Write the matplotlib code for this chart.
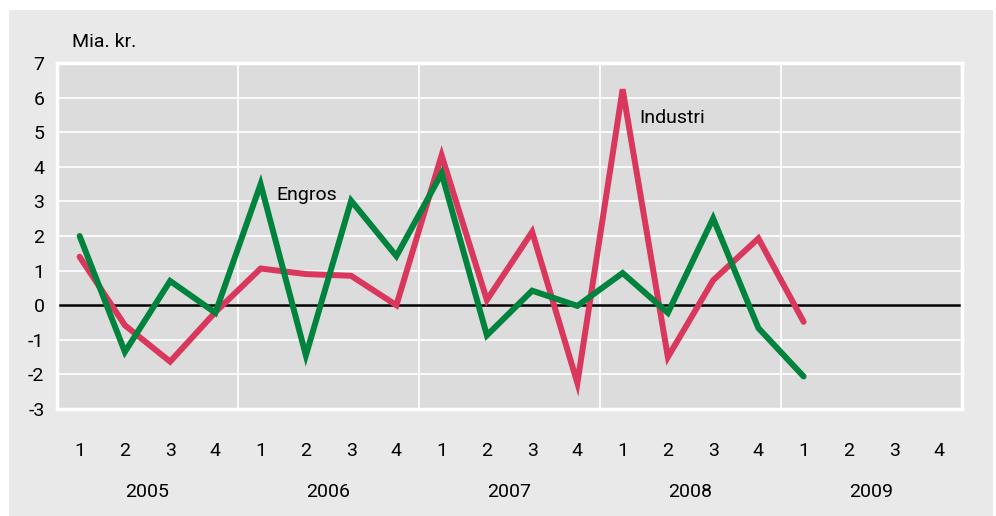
import numpy as np
import matplotlib
matplotlib.use("Agg")
import matplotlib.pyplot as plt
from matplotlib.patches import Rectangle
import matplotlib.transforms as mtransforms

plt.rcParams['font.family'] = ['Roboto', 'DejaVu Sans']

# Data
years = ['2005', '2006', '2007', '2008', '2009']
quarters = ['1', '2', '3', '4']
industri = [1.4, -0.58, -1.63, -0.2, 1.06, 0.9, 0.85, 0.0,
            4.33, 0.15, 2.12, -2.25, 6.24, -1.5, 0.72, 1.93, -0.48]
engros = [2.0, -1.35, 0.7, -0.22, 3.5, -1.45, 3.02, 1.42,
          3.81, -0.87, 0.42, -0.02, 0.93, -0.22, 2.51, -0.66, -2.06]

W, H = 996, 516
fig = plt.figure(figsize=(W / 100, H / 100), dpi=100)
fig.patch.set_facecolor('white')

# gray panel behind the chart
fig.patches.append(Rectangle((9 / W, 0), (993 - 9) / W, (516 - 10) / H,
                             transform=fig.transFigure, facecolor='#e9e9e9',
                             edgecolor='none', zorder=-5))

ax = fig.add_axes([57 / W, (H - 409) / H, 905 / W, 346 / H])
ax.set_zorder(2)
ax.set_facecolor('#dcdcdc')

n_q = len(years) * len(quarters)
x = np.arange(len(industri))

# grid
for yv in range(-3, 8):
    ax.axhline(yv, color='white', lw=1.2, zorder=1)
for b in range(4, n_q, 4):
    ax.axvline(b - 0.5, color='white', lw=1.2, zorder=1)
ax.axhline(0, color='black', lw=1.8, zorder=2)

ax.plot(x, industri, color='#d9375b', lw=4.3, solid_joinstyle='miter',
        solid_capstyle='round', zorder=3)
ax.plot(x, engros, color='#00843d', lw=4.3, solid_joinstyle='miter',
        solid_capstyle='round', zorder=4)

ax.set_xlim(-0.5, n_q - 0.5)
ax.set_ylim(-3, 7)
ax.set_yticks(range(-3, 8))
ax.set_yticklabels([str(v) for v in range(-3, 8)])
ax.set_xticks(range(n_q))
ax.set_xticklabels(quarters * len(years))
ax.tick_params(axis='both', length=0, labelsize=14, colors='black')
ax.tick_params(axis='x', pad=24)
ax.tick_params(axis='y', pad=9)
for s in ax.spines.values():
    s.set_color('white')
    s.set_linewidth(2.5)

trans = mtransforms.blended_transform_factory(ax.transData, fig.transFigure)
for i, yr in enumerate(years):
    ax.text(i * 4 + 1.5, (H - 492) / H, yr, transform=trans, ha='center',
            va='center', fontsize=14)

fig.text(72 / W, (H - 42) / H, 'Mia. kr.', fontsize=14, va='center', ha='left')

ax.text(4.34, 3.18, 'Engros', fontsize=14, va='center', ha='left', zorder=5)
ax.text(12.36, 5.41, 'Industri', fontsize=14, va='center', ha='left', zorder=5)

fig.savefig('out.png', dpi=100)
